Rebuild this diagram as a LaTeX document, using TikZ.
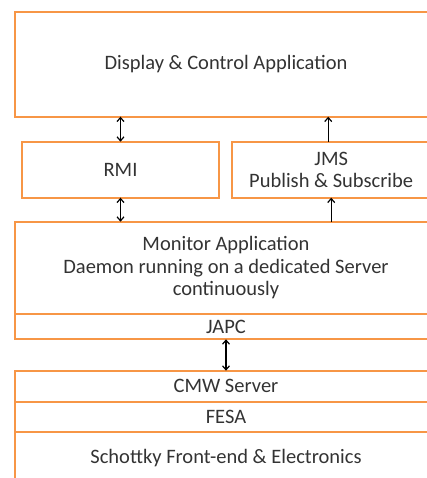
\documentclass[tikz,border=0pt]{standalone}
\usepackage{fontspec}
\setmainfont{Carlito}
\usetikzlibrary{arrows.meta}
\definecolor{layerorange}{HTML}{F79646}

\begin{document}
\begin{tikzpicture}[x=1pt,y=-1pt]
\tikzstyle{every node}=[font=\fontsize{20.5}{22.5}\selectfont, text=black!80]
\tikzstyle{layer}=[draw=layerorange, line width=2pt, inner sep=0pt, outer sep=0pt, align=center]
\tikzstyle{link}=[line width=1.2pt, black, {Straight Barb[length=4pt,width=7pt]}-{Straight Barb[length=4pt,width=7pt]}]
\tikzstyle{uplink}=[line width=1.2pt, black, -{Straight Barb[length=4pt,width=7pt]}]

	\useasboundingbox (0,0) rectangle (427,478);
	\clip (0,0) rectangle (427,478);

	% client side
	\node[layer, minimum width=422pt, minimum height=104.4pt] (display) at (226,64.5) {Display \& Control Application};
	\node[layer, minimum width=197.6pt, minimum height=56pt] (rmi) at (120.5,169.7) {RMI};
	\node[layer, minimum width=197.7pt, minimum height=56pt] (jms) at (331.2,169.7) {JMS\\Publish \& Subscribe};

	% server side
	\node[layer, minimum width=422pt, minimum height=92.6pt] (monitor) at (226,268) {Monitor Application\\Daemon running on a dedicated Server\\continuously};
	\node[layer, minimum width=422pt, minimum height=25pt] (japc) at (226,326.8) {JAPC};

	% front-end
	\node[layer, minimum width=422pt, minimum height=31pt] (cmw) at (226,386.2) {CMW Server};
	\node[layer, minimum width=422pt, minimum height=30.6pt] (fesa) at (226,417) {FESA};
	\node[layer, minimum width=422pt, minimum height=52pt] (schottky) at (226,458.3) {Schottky Front-end \& Electronics};

	\draw[link] (rmi.north) -- (rmi.north |- display.south);
	\draw[link] (rmi.south) -- (rmi.south |- monitor.north);
	\draw[uplink] ([xshift=-3pt]jms.north) -- ([xshift=-3pt]jms.north |- display.south);
	\draw[uplink] (jms.south |- monitor.north) -- (jms.south);
	\draw[link] (japc.south) -- (cmw.north);
\end{tikzpicture}
\end{document}
